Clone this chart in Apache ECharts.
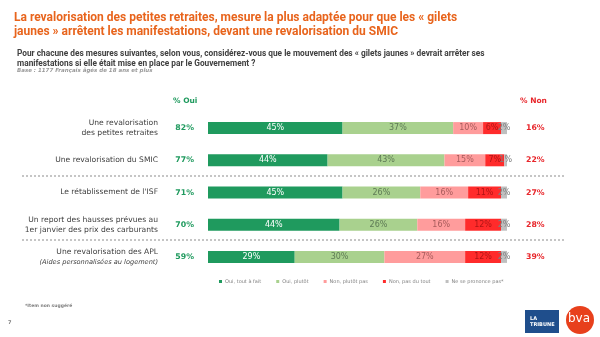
<!DOCTYPE html>
<html><head><meta charset="utf-8">
<script src="https://cdn.jsdelivr.net/npm/echarts@6/dist/echarts.min.js"></script>
<style>html,body{margin:0;padding:0;background:#fff}#c{width:600px;height:337px}</style>
</head><body><div id="c"></div>
<script>
const categories = [
  "Une revalorisation\ndes petites retraites",
  "Une revalorisation du SMIC",
  "Le rétablissement de l'ISF",
  "Un report des hausses prévues au\n1er janvier des prix des carburants",
  "Une revalorisation des APL\n(Aides personnalisées au logement)"
];
const seriesNames = ["Oui, tout à fait", "Oui, plutôt", "Non, plutôt pas", "Non, pas du tout", "Ne se prononce pas*"];
const ouiToutAFait = [45, 44, 45, 44, 29];
const ouiPlutot = [37, 43, 26, 26, 30];
const nonPlutotPas = [10, 15, 16, 16, 27];
const nonPasDuTout = [6, 7, 11, 12, 12];
const nspp = [2, 1, 2, 2, 2];
const totalOui = [82, 77, 71, 70, 59];
const totalNon = [16, 22, 27, 28, 39];

const raw = [ouiToutAFait, ouiPlutot, nonPlutotPas, nonPasDuTout, nspp];
const rowSum = categories.map((_, i) => raw.reduce((s, a) => s + a[i], 0));
const colors = ["#1f9a5e", "#a9d18e", "#ff9c9c", "#ff2b2b", "#bfbfbf"];
const labelColors = ["#ffffff", "#5e7a55", "#a85c5c", "#b01515", "#7f7f7f"];

const chart = echarts.init(document.getElementById('c'), null, {renderer: 'canvas'});
const FONT = "DejaVu Sans";

const series = raw.map((arr, k) => ({
  name: seriesNames[k],
  type: 'bar',
  stack: 'all',
  barWidth: 12,
  itemStyle: {color: colors[k]},
  label: {
    show: true, position: 'inside', fontFamily: FONT, fontSize: 8,
    color: labelColors[k],
    formatter: p => arr[p.dataIndex] + '%'
  },
  emphasis: {disabled: true},
  data: arr.map((v, i) => v / rowSum[i] * 100)
}));

chart.setOption({
  animation: false,
  textStyle: {fontFamily: FONT},
  title: [
    {text: "La revalorisation des petites retraites, mesure la plus adaptée pour que les « gilets\njaunes » arrêtent les manifestations, devant une revalorisation du SMIC",
     left: 14, top: 11, padding: 0, textStyle: {fontFamily: "Roboto", fontWeight: 'bold', fontSize: 12, color: '#e8641c', lineHeight: 14}},
    {text: "Pour chacune des mesures suivantes, selon vous, considérez-vous que le mouvement des « gilets jaunes » devrait arrêter ses\nmanifestations si elle était mise en place par le Gouvernement ?",
     left: 17, top: 49, padding: 0, textStyle: {fontFamily: "Roboto", fontWeight: 'bold', fontSize: 8.3, color: '#404040', lineHeight: 10}},
    {text: "Base : 1177 Français âgés de 18 ans et plus", left: 17, top: 68, padding: 0,
     textStyle: {fontFamily: FONT, fontStyle: 'italic', fontSize: 5.5, color: '#9a9a9a'}},
    {text: "% Oui", left: 173, top: 97, padding: 0, textStyle: {fontFamily: FONT, fontWeight: 'bold', fontSize: 7.5, color: '#1f9a5e'}},
    {text: "% Non", left: 520, top: 97, padding: 0, textStyle: {fontFamily: FONT, fontWeight: 'bold', fontSize: 7.5, color: '#e8262b'}},
    {text: "*Item non suggéré", left: 25, top: 303, padding: 0, textStyle: {fontFamily: FONT, fontSize: 4.5, color: '#7f7f7f'}},
    {text: "7", left: 8, top: 320, padding: 0, textStyle: {fontFamily: FONT, fontSize: 5, color: '#7f7f7f'}}
  ],
  legend: {
    data: seriesNames, left: 214, top: 274, icon: 'rect', itemWidth: 3, itemHeight: 3, itemGap: 15,
    textStyle: {fontFamily: FONT, fontSize: 5, color: '#7f7f7f', padding: [0,0,0,-2]}
  },
  grid: {left: 208, top: 112, width: 299, height: 161},
  xAxis: {type: 'value', min: 0, max: 100, show: false},
  yAxis: [
    {type: 'category', data: categories, inverse: true,
     axisLine: {show: false}, axisTick: {show: false},
     axisLabel: {margin: 50, fontFamily: FONT, fontSize: 7.6, color: '#404040', lineHeight: 10,
       formatter: (v, i) => i === 4 ? "{a|Une revalorisation des APL}\n{i|(Aides personnalisées au logement)}" : v,
       rich: {a: {fontFamily: FONT, fontSize: 7.6, color: '#404040', lineHeight: 10, align: 'right'},
              i: {fontFamily: FONT, fontSize: 6.6, fontStyle: 'italic', color: '#404040', lineHeight: 9, align: 'right'}}}},
    {type: 'category', data: totalOui.map(v => v + '%'), inverse: true, position: 'left',
     axisLine: {show: false}, axisTick: {show: false},
     axisLabel: {margin: 14, fontFamily: FONT, fontWeight: 'bold', fontSize: 7.8, color: '#1f9a5e'}},
    {type: 'category', data: totalNon.map(v => v + '%'), inverse: true, position: 'right',
     axisLine: {show: false}, axisTick: {show: false},
     axisLabel: {margin: 19, fontFamily: FONT, fontWeight: 'bold', fontSize: 7.8, color: '#e8262b'}}
  ],
  series: series,
  graphic: [
    {type: 'line', shape: {x1: 22, y1: 176, x2: 566, y2: 176}, style: {stroke: '#8c8c8c', lineWidth: 1, lineDash: [2, 2]}},
    {type: 'line', shape: {x1: 22, y1: 240, x2: 566, y2: 240}, style: {stroke: '#8c8c8c', lineWidth: 1, lineDash: [2, 2]}},
    {type: 'rect', shape: {x: 525, y: 310, width: 34, height: 23}, style: {fill: '#1f4e8c'}},
    {type: 'text', left: 530, top: 316, style: {text: 'LA\nTRIBUNE', fill: '#fff', font: 'bold 5px "DejaVu Sans"', lineHeight: 6}},
    {type: 'circle', shape: {cx: 580, cy: 320, r: 14}, style: {fill: '#e8401c'}},
    {type: 'text', left: 568, top: 313, style: {text: 'bva', fill: '#fff', font: '12px "DejaVu Sans"'}}
  ]
});
</script></body></html>
